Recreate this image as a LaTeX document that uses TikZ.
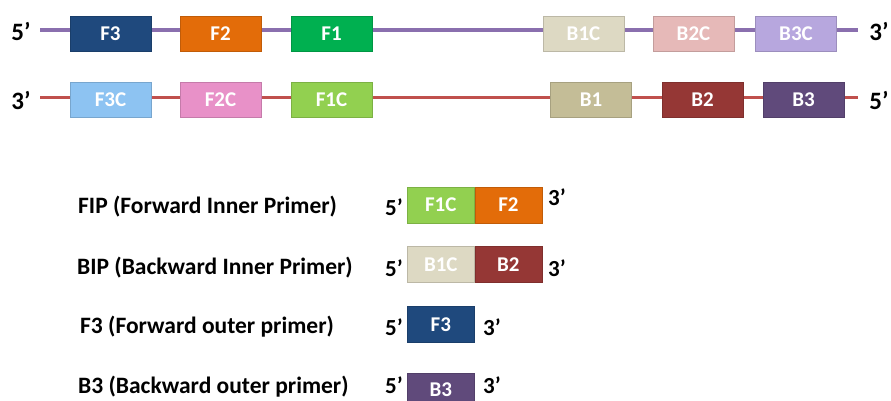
\documentclass[tikz,border=0pt]{standalone}
\usepackage{fontspec}
\setmainfont{Carlito}
\definecolor{cF3}{HTML}{1F497D}
\definecolor{cF2}{HTML}{E36C09}
\definecolor{cF1}{HTML}{00B050}
\definecolor{cB1C}{HTML}{DDD9C3}
\definecolor{cB2C}{HTML}{E6B9B8}
\definecolor{cB3C}{HTML}{B7A7DE}
\definecolor{cF3C}{HTML}{8DC3F2}
\definecolor{cF2C}{HTML}{E891C8}
\definecolor{cF1C}{HTML}{92D050}
\definecolor{cB1}{HTML}{C4BD97}
\definecolor{cB2}{HTML}{953735}
\definecolor{cB3}{HTML}{604A7B}
\definecolor{topline}{HTML}{8A6FAE}
\definecolor{botline}{HTML}{C0504D}
\tikzset{
  seg/.style={fill=#1, draw=#1!85!black, line width=0.6pt, rectangle, minimum height=35pt,
    minimum width=81pt, inner sep=0pt, text=white, font=\fontsize{21}{21}\selectfont\bfseries},
  pseg/.style={seg=#1, minimum width=67pt, minimum height=36pt},
  endlab/.style={inner sep=0pt, font=\fontsize{25}{25}\selectfont\bfseries},
  plab/.style={inner sep=0pt, anchor=west, font=\fontsize{23.5}{23.5}\selectfont\bfseries},
  primelab/.style={inner sep=0pt, font=\fontsize{23}{23}\selectfont\bfseries},
  strand/.style={line width=3.5pt, #1}
}
\begin{document}
\begin{tikzpicture}[x=1pt,y=-1pt]
\useasboundingbox (0,0) rectangle (891,401);
\clip (0,0) rectangle (891,401);
% top strand
\node[endlab] (t5) at (21,31) {5’};
\node[endlab] (t3) at (879,31) {3’};
\coordinate (ts) at (40,30);
\coordinate (te) at (858,30);
\draw[strand=topline] (ts) -- (te);
\node[seg=cF3] (F3) at (110.5,33.5) {F3};
\node[seg=cF2] (F2) at (220.5,33.5) {F2};
\node[seg=cF1] (F1) at (331.5,33.5) {F1};
\node[seg=cB1C] (B1C) at (583.5,33.5) {B1C};
\node[seg=cB2C] (B2C) at (693.5,33.5) {B2C};
\node[seg=cB3C] (B3C) at (796,33.5) {B3C};
% bottom strand
\node[endlab] (b3) at (21,100) {3’};
\node[endlab] (b5) at (879,100) {5’};
\coordinate (bs) at (40,97.5);
\coordinate (be) at (858,97.5);
\draw[strand=botline] (bs) -- (be);
\node[seg=cF3C] (F3C) at (110.5,100) {F3C};
\node[seg=cF2C] (F2C) at (220.5,100) {F2C};
\node[seg=cF1C] (F1C) at (331.5,100) {F1C};
\node[seg=cB1] (B1) at (591,100) {B1};
\node[seg=cB2] (B2) at (702.5,100) {B2};
\node[seg=cB3] (B3) at (803.5,100) {B3};
% primers
\node[plab] (fip) at (78,207) {FIP (Forward Inner Primer)};
\node[primelab] (fip5) at (394,207) {5’};
\node[pseg=cF1C, anchor=west] (fipa) at (407,205) {F1C};
\node[pseg=cF2, anchor=west] (fipb) at (fipa.east) {F2};
\node[primelab] (fip3) at (557,197) {3’};

\node[plab] (bip) at (77,268) {BIP (Backward Inner Primer)};
\node[primelab] (bip5) at (394,268) {5’};
\node[pseg=cB1C, anchor=west] (bipa) at (407,264.5) {B1C};
\node[pseg=cB2, anchor=west] (bipb) at (bipa.east) {B2};
\node[primelab] (bip3) at (557,268) {3’};

\node[plab] (f3l) at (80,327) {F3 (Forward outer primer)};
\node[primelab] (f35) at (394,327) {5’};
\node[pseg=cF3, anchor=west] (f3p) at (407,324.5) {F3};
\node[primelab] (f33) at (492,327) {3’};

\node[plab] (b3l) at (78,387) {B3 (Backward outer primer)};
\node[primelab] (b35) at (394,385) {5’};
\node[pseg=cB3, anchor=north west, minimum height=32pt] (b3p) at (407,373) {B3};
\node[primelab] (b33) at (492,385) {3’};
\end{tikzpicture}
\end{document}
